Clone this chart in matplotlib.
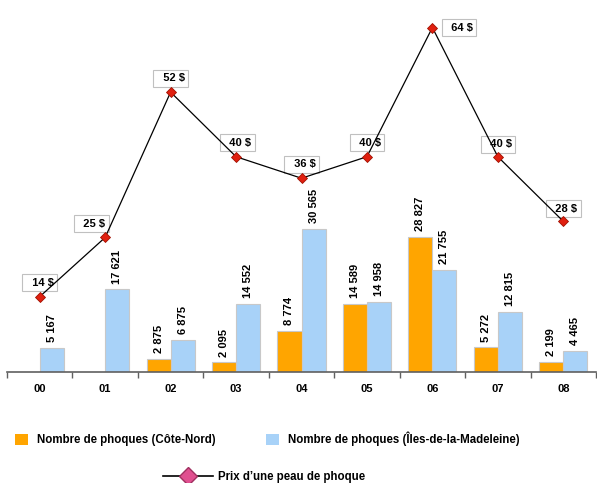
import numpy as np
import matplotlib
matplotlib.use("Agg")
import matplotlib.pyplot as plt
from matplotlib.lines import Line2D
from matplotlib.patches import Patch

plt.rcParams['font.family'] = ['Liberation Sans', 'DejaVu Sans']
plt.rcParams['font.weight'] = 'bold'

# --- data ---
years = ["00", "01", "02", "03", "04", "05", "06", "07", "08"]
cote_nord = [None, None, 2875, 2095, 8774, 14589, 28827, 5272, 2199]
iles_madeleine = [5167, 17621, 6875, 14552, 30565, 14958, 21755, 12815, 4465]
price = [14, 25, 52, 40, 36, 40, 64, 40, 28]

# label offsets (points) for the price boxes
price_label_offsets = [(0, 10), (-10, 10), (0, 10), (1, 10), (0, 10),
                       (0, 10), (19, 0), (0, 9), (0, 9)]

ORANGE = "#FFA500"
BLUE = "#A8D2F8"
EDGE = "#C8C8C8"

fig = plt.figure(figsize=(5.97, 4.83), dpi=100)
ax = fig.add_axes([7 / 597, 111 / 483, 589 / 597, 352 / 483])
ax2 = ax.twinx()

x = np.arange(len(years))
w = 0.367
cn_vals = [v if v is not None else 0 for v in cote_nord]

bars_cn = ax.bar(x - w / 2, cn_vals, width=w, color=ORANGE, edgecolor=EDGE, linewidth=0.8)
bars_im = ax.bar(x + w / 2, iles_madeleine, width=w, color=BLUE, edgecolor=EDGE, linewidth=0.8)

def fmt(v):
    return f"{v:,}".replace(",", " ")

for b, v in zip(bars_cn, cote_nord):
    if v is None:
        b.set_visible(False)
        continue
    ax.annotate(fmt(v), (b.get_x() + b.get_width() / 2, b.get_height()),
                xytext=(0, 4), textcoords="offset points", rotation=90,
                ha="center", va="bottom", fontsize=8, fontweight="bold")
for b, v in zip(bars_im, iles_madeleine):
    ax.annotate(fmt(v), (b.get_x() + b.get_width() / 2, b.get_height()),
                xytext=(0, 4), textcoords="offset points", rotation=90,
                ha="center", va="bottom", fontsize=8, fontweight="bold")

ax.set_xlim(-0.5, len(years) - 0.5)
ax.set_ylim(0, 75000)
ax2.set_ylim(0, 65.4)

# price line
ax2.plot(x, price, color="black", linewidth=0.9, marker="D", markersize=5,
         markerfacecolor="#E02010", markeredgecolor="#A01000", markeredgewidth=0.6, zorder=5)
for xi, p, off in zip(x, price, price_label_offsets):
    ax2.annotate(f"  {p} $", (xi, p), xytext=off, textcoords="offset points",
                 ha="center", va="center", fontsize=8, fontweight="bold",
                 bbox=dict(boxstyle="square,pad=0.3", facecolor="white",
                           edgecolor="#C0C0C0", linewidth=0.8))

for a in (ax, ax2):
    for s in ("top", "left", "right"):
        a.spines[s].set_visible(False)
    a.set_yticks([])
ax2.spines["bottom"].set_visible(False)
ax.spines["bottom"].set_color("#606060")
ax.spines["bottom"].set_linewidth(1.2)

ax.set_xticks(x)
ax.set_xticklabels(years, fontsize=8, fontweight="bold")
ax.tick_params(axis="x", which="major", length=0, pad=9)
ax.set_xticks(np.arange(-0.5, len(years)), minor=True)
ax.tick_params(axis="x", which="minor", length=4, width=1, color="#606060", direction="out")

# legend
h1 = [Patch(facecolor=ORANGE, edgecolor="none"), Patch(facecolor=BLUE, edgecolor="none")]
fig.legend(h1, ["Nombre de phoques (Côte-Nord)", "Nombre de phoques (Îles-de-la-Madeleine)"],
           loc="center left", bbox_to_anchor=(15 / 597, 44 / 483), ncol=2, frameon=False,
           prop={"size": 8.3, "weight": "bold"}, handlelength=1.13, handleheight=1.13,
           columnspacing=4.4, handletextpad=0.78, borderpad=0, borderaxespad=0)
h2 = [Line2D([0], [0], color="black", linewidth=1.2, marker="D", markersize=9,
             markerfacecolor="#E05090", markeredgecolor="#A03060")]
fig.legend(h2, ["Prix d\u2019une peau de phoque"], loc="center left",
           bbox_to_anchor=(163 / 597, 6 / 483), frameon=False,
           prop={"size": 8.3, "weight": "bold"}, handlelength=4.3, handletextpad=0.45,
           borderpad=0, borderaxespad=0)

fig.savefig("out.png", dpi=100)
